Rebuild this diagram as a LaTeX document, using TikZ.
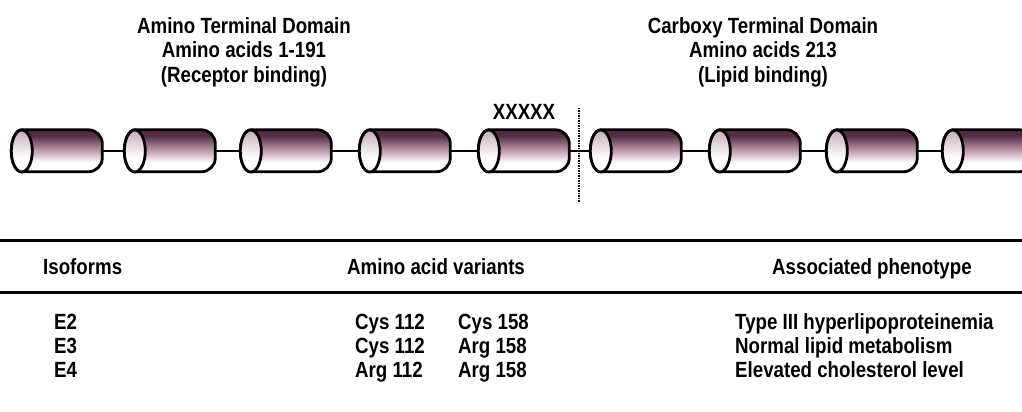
\documentclass[tikz,border=0pt]{standalone}
\usepackage{fontspec}
\setmainfont{Liberation Sans Bold}[FakeStretch=0.85]

\definecolor{helixtop}{RGB}{84,44,70}
\definecolor{helixmid}{RGB}{184,144,166}
\definecolor{capcol}{RGB}{200,170,188}

% the path spans 25bp (bottom) to 75bp (top) of each shading
\pgfdeclareverticalshading{helixshade}{100bp}{color(0bp)=(white); color(36bp)=(white); color(52bp)=(helixmid); color(68bp)=(helixtop); color(100bp)=(helixtop)}
\pgfdeclareverticalshading{capshade}{100bp}{color(0bp)=(white); color(42bp)=(white); color(75bp)=(capcol); color(100bp)=(capcol)}

\tikzset{
    helixbox/.style = {rectangle, minimum width=91pt, minimum height=42pt, inner sep=0pt},
    helixbody/.style = {shading=helixshade, draw=black, line width=2.8pt},
    helixend/.style = {shading=capshade, draw=black, line width=2.8pt},
    link/.style = {line width=2.2pt},
    domainlabel/.style = {align=center, inner sep=0pt, font=\fontsize{22}{24.5}\selectfont},
    cell/.style = {anchor=base west, inner sep=0pt, font=\fontsize{22}{24}\selectfont},
    rule/.style = {line width=3pt}
}

\begin{document}
\begin{tikzpicture}[x=1pt, y=1pt]
    \useasboundingbox[fill=white] (0,0) rectangle (1022,412);

    %domain headings
        \node[domainlabel] (nterm) at (244,360) {Amino Terminal Domain\\Amino acids 1-191\\(Receptor binding)};
        \node[domainlabel] (cterm) at (763,360) {Carboxy Terminal Domain\\Amino acids 213\\(Lipid binding)};
        \node[inner sep=0pt, font=\fontsize{22}{22}\selectfont] (mut) at (524,300) {XXXXX};

    %helices
        \foreach \n/\x in {1/57, 2/170, 3/286, 4/405, 5/524, 6/636, 7/755, 8/872, 9/988}{
            \node[helixbox] (h\n) at (\x,261) {};
            \shade[helixbody] ([xshift=10.5pt]h\n.north west) -- ++(66.5,0)
                arc[start angle=90, end angle=0, radius=14] -- ++(0,-14)
                arc[start angle=0, end angle=-90, radius=14] -- ++(-66.5,0)
                arc[start angle=270, end angle=90, x radius=10.5, y radius=21] -- cycle;
            \draw[helixend] ([xshift=10.5pt]h\n.west) ellipse [x radius=10.5, y radius=21];
        }

    %links between helices
        \foreach \a/\b in {1/2, 2/3, 3/4, 4/5, 5/6, 6/7, 7/8, 8/9}{
            \draw[link] (h\a) -- (h\b);
        }

    %domain boundary
        \coordinate (cuttop) at (579,304);
        \coordinate (cutbot) at (579,209);
        \draw[line width=2.8pt, dash pattern=on 1.4pt off 1.1pt] (cuttop) -- (cutbot);

    %table
        \draw[rule] (0,171) -- (1022,171);
        \draw[rule] (0,119) -- (1022,119);

        \node[cell] (iso) at (43,137) {Isoforms};
        \node[cell] (variant) at (347,137) {Amino acid variants};
        \node[cell] (pheno) at (772,137) {Associated phenotype};

        \node[cell] (e2) at (54,82) {E2};
        \node[cell] (e3) at (54,58) {E3};
        \node[cell] (e4) at (54,34) {E4};

        \node[cell] (e2a) at (355,82) {Cys 112};
        \node[cell] (e3a) at (355,58) {Cys 112};
        \node[cell] (e4a) at (355,34) {Arg 112};
        \node[cell] (e2b) at (458,82) {Cys 158};
        \node[cell] (e3b) at (458,58) {Arg 158};
        \node[cell] (e4b) at (458,34) {Arg 158};

        \node[cell] (e2p) at (735,82) {Type III hyperlipoproteinemia};
        \node[cell] (e3p) at (735,58) {Normal lipid metabolism};
        \node[cell] (e4p) at (735,34) {Elevated cholesterol level};

\end{tikzpicture}
\end{document}
